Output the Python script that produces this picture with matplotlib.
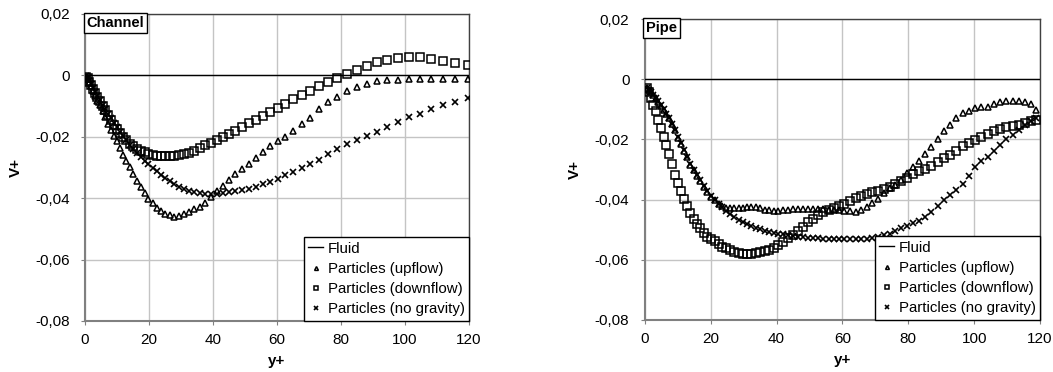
import matplotlib.pyplot as plt
from matplotlib.ticker import FuncFormatter

plt.rcParams['font.family'] = ['Liberation Sans', 'DejaVu Sans']

# ---- Channel data ----
yplus_channel = [0.4, 0.8, 1.3, 1.9, 2.5, 3.2, 3.9, 4.7, 5.5, 6.3, 7.2, 8.1, 9.0, 9.9, 10.9,
                 11.9, 12.9, 14.0, 15.1, 16.2, 17.4, 18.6, 19.8, 21.1, 22.4, 23.7, 25.1, 26.5,
                 27.9, 29.4, 30.9, 32.5, 34.1, 35.8, 37.5, 39.3, 41.1, 43.0, 44.9, 46.9, 49.0,
                 51.1, 53.3, 55.5, 57.8, 60.2, 62.6, 65.1, 67.7, 70.4, 73.2, 76.0, 78.9, 81.9,
                 84.9, 88.0, 91.2, 94.4, 97.7, 101.1, 104.6, 108.1, 111.8, 115.6, 119.6]
channel_upflow = [-0.0006, -0.0013, -0.0022, -0.0035, -0.0050, -0.0066, -0.0082, -0.0098,
                  -0.0115, -0.0135, -0.0158, -0.0178, -0.0198, -0.0214, -0.0235, -0.0258,
                  -0.0278, -0.0300, -0.0322, -0.0343, -0.0363, -0.0384, -0.0401, -0.0417,
                  -0.0432, -0.0443, -0.0451, -0.0456, -0.0460, -0.0458, -0.0452, -0.0445,
                  -0.0436, -0.0428, -0.0416, -0.0397, -0.0378, -0.0359, -0.0342, -0.0322,
                  -0.0305, -0.0287, -0.0268, -0.0251, -0.0231, -0.0215, -0.0202, -0.0180,
                  -0.0158, -0.0138, -0.0111, -0.0088, -0.0069, -0.0050, -0.0039, -0.0028,
                  -0.0017, -0.0016, -0.0015, -0.0013, -0.0011, -0.0011, -0.0011, -0.0011,
                  -0.0011]
channel_downflow = [-0.0005, -0.0010, -0.0020, -0.0032, -0.0044, -0.0057, -0.0070, -0.0085,
                    -0.0100, -0.0114, -0.0130, -0.0145, -0.0160, -0.0174, -0.0188, -0.0200,
                    -0.0211, -0.0222, -0.0231, -0.0239, -0.0246, -0.0251, -0.0255, -0.0258,
                    -0.0261, -0.0262, -0.0262, -0.0262, -0.0262, -0.0260, -0.0257, -0.0252,
                    -0.0245, -0.0236, -0.0228, -0.0220, -0.0211, -0.0202, -0.0192, -0.0182,
                    -0.0169, -0.0156, -0.0146, -0.0132, -0.0118, -0.0105, -0.0092, -0.0078,
                    -0.0064, -0.0050, -0.0035, -0.0021, -0.0009, 0.0005, 0.0017, 0.0030,
                    0.0044, 0.0050, 0.0057, 0.0060, 0.0060, 0.0055, 0.0048, 0.0041, 0.0034]
channel_nogravity = [-0.0003, -0.0008, -0.0017, -0.0028, -0.0040, -0.0053, -0.0066, -0.0080,
                     -0.0095, -0.0110, -0.0126, -0.0140, -0.0155, -0.0168, -0.0183, -0.0198,
                     -0.0212, -0.0226, -0.0240, -0.0253, -0.0266, -0.0278, -0.0290, -0.0302,
                     -0.0313, -0.0324, -0.0334, -0.0345, -0.0355, -0.0363, -0.0370, -0.0376,
                     -0.0380, -0.0382, -0.0385, -0.0387, -0.0386, -0.0384, -0.0381, -0.0377,
                     -0.0373, -0.0369, -0.0364, -0.0355, -0.0346, -0.0336, -0.0324, -0.0314,
                     -0.0303, -0.0289, -0.0274, -0.0257, -0.0241, -0.0224, -0.0212, -0.0198,
                     -0.0183, -0.0168, -0.0153, -0.0137, -0.0125, -0.0110, -0.0098, -0.0086,
                     -0.0075]

# ---- Pipe data ----
yplus_pipe = [0.6, 1.2, 1.9, 2.6, 3.3, 4.1, 4.9, 5.7, 6.5, 7.3, 8.2, 9.1, 10.0, 10.9, 11.8,
              12.8, 13.8, 14.8, 15.8, 16.8, 17.9, 19.0, 20.1, 21.2, 22.4, 23.6, 24.8, 26.0,
              27.2, 28.5, 29.8, 31.1, 32.4, 33.7, 35.0, 36.4, 37.8, 39.2, 40.6, 42.0, 43.5,
              45.0, 46.5, 48.0, 49.5, 51.0, 52.6, 54.2, 55.8, 57.4, 59.0, 60.6, 62.3, 64.0,
              65.7, 67.4, 69.1, 70.8, 72.5, 74.3, 76.1, 77.9, 79.7, 81.5, 83.3, 85.1, 87.0,
              88.9, 90.8, 92.7, 94.6, 96.5, 98.4, 100.3, 102.2, 104.1, 106.0, 107.9, 109.8,
              111.7, 113.6, 115.5, 117.4, 118.8]
pipe_upflow = [-0.0030, -0.0037, -0.0044, -0.0053, -0.0063, -0.0075, -0.0088, -0.0102, -0.0116,
               -0.0130, -0.0150, -0.0170, -0.0195, -0.0215, -0.0238, -0.0260, -0.0285, -0.0303,
               -0.0320, -0.0338, -0.0357, -0.0375, -0.0390, -0.0402, -0.0413, -0.0422, -0.0427,
               -0.0429, -0.0429, -0.0428, -0.0427, -0.0426, -0.0425, -0.0425, -0.0428, -0.0434,
               -0.0436, -0.0437, -0.0437, -0.0436, -0.0434, -0.0432, -0.0432, -0.0432, -0.0432,
               -0.0432, -0.0432, -0.0432, -0.0433, -0.0434, -0.0436, -0.0437, -0.0439, -0.0440,
               -0.0436, -0.0425, -0.0412, -0.0398, -0.0378, -0.0362, -0.0350, -0.0335, -0.0310,
               -0.0292, -0.0273, -0.0250, -0.0226, -0.0197, -0.0173, -0.0152, -0.0130, -0.0112,
               -0.0104, -0.0097, -0.0094, -0.0091, -0.0084, -0.0075, -0.0071, -0.0072, -0.0074,
               -0.0076, -0.0082, -0.0102]
pipe_downflow = [-0.0030, -0.0042, -0.0062, -0.0086, -0.0107, -0.0135, -0.0163, -0.0193,
                 -0.0220, -0.0250, -0.0283, -0.0317, -0.0345, -0.0373, -0.0398, -0.0421,
                 -0.0443, -0.0463, -0.0480, -0.0495, -0.0510, -0.0523, -0.0531, -0.0539,
                 -0.0549, -0.0556, -0.0562, -0.0569, -0.0575, -0.0578, -0.0580, -0.0581,
                 -0.0581, -0.0578, -0.0575, -0.0571, -0.0567, -0.0560, -0.0551, -0.0541,
                 -0.0528, -0.0517, -0.0505, -0.0491, -0.0476, -0.0464, -0.0451, -0.0441,
                 -0.0434, -0.0427, -0.0422, -0.0415, -0.0404, -0.0396, -0.0389, -0.0382,
                 -0.0376, -0.0370, -0.0364, -0.0357, -0.0348, -0.0338, -0.0327, -0.0315,
                 -0.0305, -0.0298, -0.0287, -0.0275, -0.0263, -0.0251, -0.0238, -0.0222,
                 -0.0213, -0.0201, -0.0192, -0.0181, -0.0172, -0.0164, -0.0158, -0.0155,
                 -0.0151, -0.0145, -0.0139, -0.0134]
pipe_nogravity = [-0.0030, -0.0036, -0.0043, -0.0051, -0.0061, -0.0073, -0.0086, -0.0100,
                  -0.0114, -0.0128, -0.0148, -0.0168, -0.0192, -0.0213, -0.0235, -0.0258,
                  -0.0282, -0.0300, -0.0318, -0.0336, -0.0355, -0.0373, -0.0388, -0.0402,
                  -0.0415, -0.0425, -0.0439, -0.0448, -0.0458, -0.0467, -0.0475, -0.0481,
                  -0.0487, -0.0493, -0.0499, -0.0504, -0.0508, -0.0511, -0.0513, -0.0515,
                  -0.0519, -0.0522, -0.0524, -0.0525, -0.0526, -0.0527, -0.0528, -0.0530,
                  -0.0530, -0.0531, -0.0531, -0.0532, -0.0532, -0.0532, -0.0531, -0.0530,
                  -0.0528, -0.0524, -0.0519, -0.0513, -0.0505, -0.0496, -0.0487, -0.0479,
                  -0.0470, -0.0459, -0.0442, -0.0422, -0.0400, -0.0384, -0.0369, -0.0348,
                  -0.0322, -0.0292, -0.0273, -0.0258, -0.0238, -0.0217, -0.0200, -0.0184,
                  -0.0168, -0.0153, -0.0140, -0.0130]

fluid_x = [0, 120]
fluid_v = [0, 0]


def comma_fmt(v, pos):
    if abs(v) < 1e-9:
        return '0'
    return ('%.2f' % v).replace('.', ',')


def draw_panel(ax, title, x, up, down, nog):
    ax.plot(fluid_x, fluid_v, color='black', lw=1.0, label='Fluid', zorder=3)
    ax.plot(x, up, ls='none', marker='^', ms=5, mfc='none', mec='black', mew=1.1,
            label='Particles (upflow)', zorder=4)
    ax.plot(x, down, ls='none', marker='s', ms=5.5, mfc='none', mec='black', mew=1.1,
            label='Particles (downflow)', zorder=4)
    ax.plot(x, nog, ls='none', marker='x', ms=4.5, mec='black', mew=1.2,
            label='Particles (no gravity)', zorder=4)

    ax.set_xlim(0, 120)
    ax.set_ylim(-0.08, 0.02)
    ax.set_xticks(range(0, 121, 20))
    ax.set_yticks([-0.08, -0.06, -0.04, -0.02, 0, 0.02])
    ax.yaxis.set_major_formatter(FuncFormatter(comma_fmt))
    ax.grid(True, color='#c4c4c4', lw=1.0)
    ax.set_axisbelow(True)
    ax.tick_params(labelsize=11, length=3, color='#808080', direction='out')
    ax.tick_params(axis='y', pad=8)
    ax.tick_params(axis='x', pad=6)
    for s in ['left', 'bottom']:
        ax.spines[s].set_color('#808080')
        ax.spines[s].set_linewidth(1.5)
    for s in ['top', 'right']:
        ax.spines[s].set_color('#404040')
        ax.spines[s].set_linewidth(1.0)
    ax.set_xlabel('y+', fontsize=11, fontweight='bold', labelpad=5)
    ax.set_ylabel('V+', fontsize=11, fontweight='bold', labelpad=9)

    ax.text(0.004, 0.993, title, transform=ax.transAxes, ha='left', va='top',
            fontsize=10.5, fontweight='bold', zorder=6,
            bbox=dict(boxstyle='square,pad=0.2', fc='white', ec='black', lw=1.0))

    leg = ax.legend(loc='lower right', fontsize=10.8, frameon=True, fancybox=False,
                    edgecolor='black', framealpha=1, borderpad=0.3, labelspacing=0.42,
                    handlelength=1.0, handletextpad=0.3, borderaxespad=0.0,
                    markerscale=0.55)
    leg.get_frame().set_linewidth(1.0)
    leg.set_zorder(7)


fig = plt.figure(figsize=(10.53, 3.72), dpi=100)
ax1 = fig.add_axes([0.0807, 0.1371, 0.3647, 0.8253])
ax2 = fig.add_axes([0.6123, 0.1398, 0.3754, 0.8091])

draw_panel(ax1, 'Channel', yplus_channel, channel_upflow, channel_downflow, channel_nogravity)
draw_panel(ax2, 'Pipe', yplus_pipe, pipe_upflow, pipe_downflow, pipe_nogravity)

fig.savefig('out.png', dpi=100)
